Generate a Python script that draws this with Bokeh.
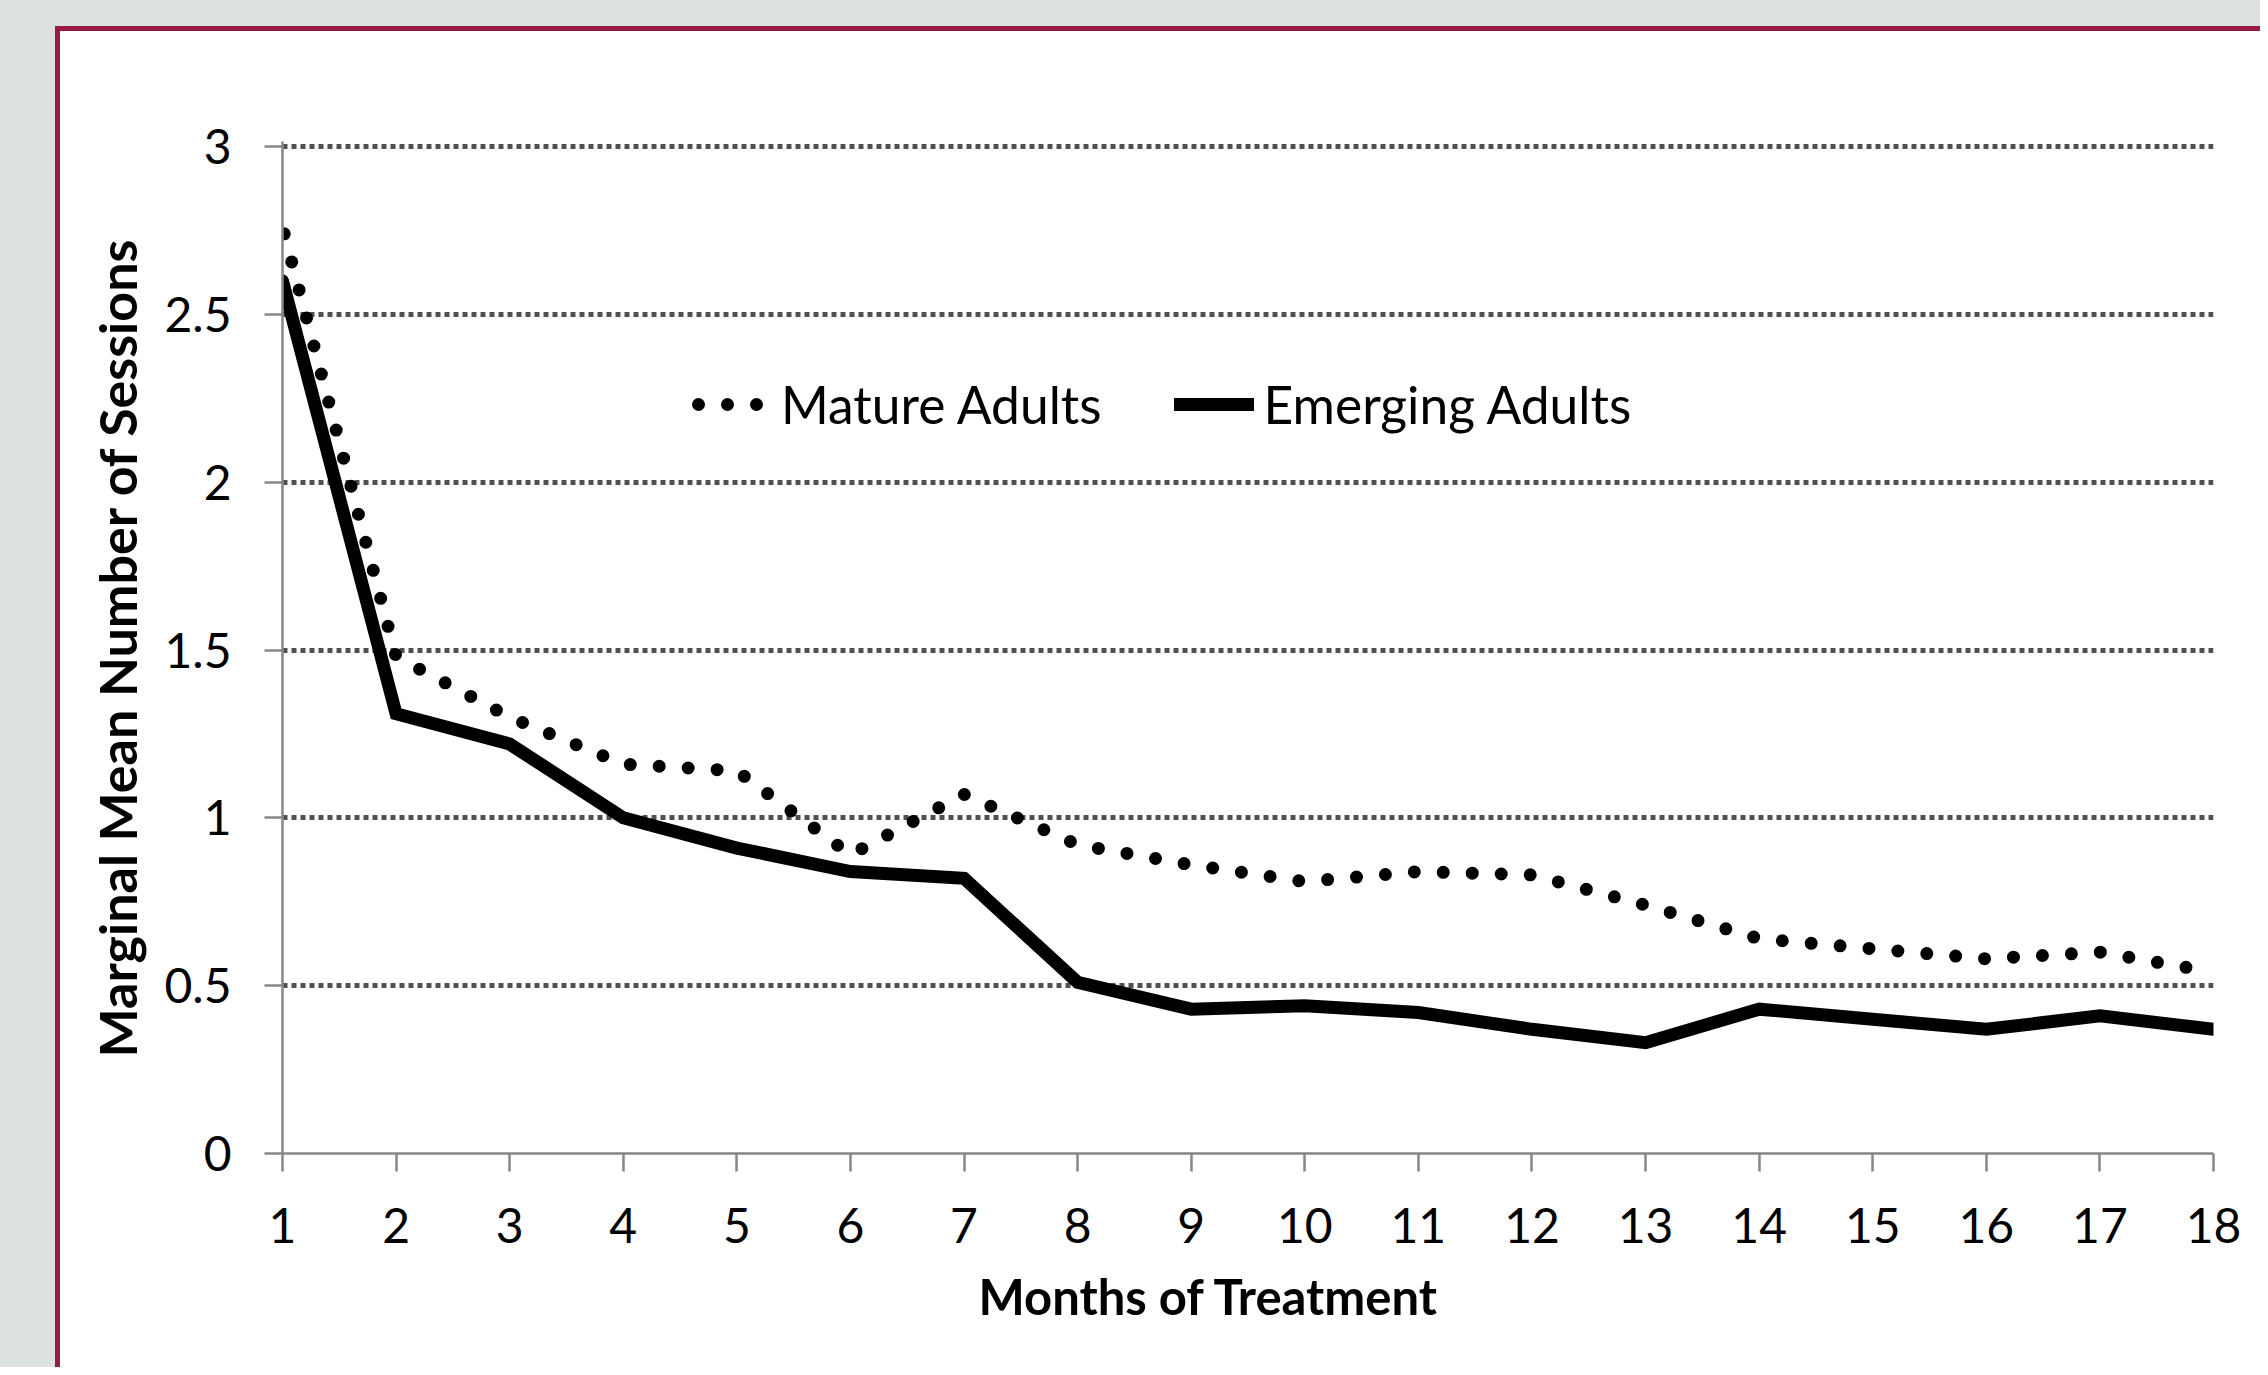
from bokeh.plotting import figure
from bokeh.models import (Range1d, FixedTicker, NumeralTickFormatter, Legend,
                          LegendItem, Spacer, Title)
from bokeh.layouts import row, column
from bokeh.embed import file_html
from bokeh.resources import INLINE

# ---------------- data ----------------
months = list(range(1, 19))
mature_adults = [2.76, 1.48, 1.30, 1.16, 1.14, 0.89, 1.07, 0.92, 0.86,
                 0.81, 0.84, 0.83, 0.74, 0.64, 0.61, 0.58, 0.60, 0.54]
emerging_adults = [2.60, 1.31, 1.22, 1.00, 0.91, 0.84, 0.82, 0.51, 0.43,
                   0.44, 0.42, 0.37, 0.33, 0.43, 0.40, 0.37, 0.41, 0.37]
series_names = ["Mature Adults", "Emerging Adults"]
y_ticks = [0, 0.5, 1, 1.5, 2, 2.5, 3]
x_title = "Months of Treatment"
y_title = "Marginal Mean Number of Sessions"

# ---------------- style ----------------
BG = "#dce3df"
CRIMSON = "#9a1a47"
FONT = "Lato"
AXIS_GRAY = "#878787"
GRID_GRAY = "#505050"

W, H = 2200, 1336

p = figure(width=W, height=H, x_range=Range1d(1, 18), y_range=Range1d(0, 3.015),
           output_backend="svg", toolbar_location=None,
           min_border_left=222, min_border_right=47,
           min_border_top=110, min_border_bottom=214,
           background_fill_color="white", border_fill_color="white",
           outline_line_color=None)

r_m = p.line(months, mature_adults, line_color="black", line_width=13,
             line_dash="0 29", line_dash_offset=22,
             line_cap="round", line_join="round")
r_e = p.line(months, emerging_adults, line_color="black", line_width=13,
             line_cap="round", line_join="miter")

# axes
for ax in (p.xaxis[0], p.yaxis[0]):
    ax.axis_line_color = AXIS_GRAY
    ax.axis_line_width = 2.5
    ax.major_tick_line_color = AXIS_GRAY
    ax.major_tick_line_width = 2.5
    ax.major_tick_out = 18
    ax.major_tick_in = 0
    ax.minor_tick_line_color = None
    ax.major_label_text_font = FONT
    ax.major_label_text_font_size = "48px"
    ax.major_label_text_color = "black"
    ax.axis_label_text_font = FONT
    ax.axis_label_text_font_style = "bold"
    ax.axis_label_text_color = "black"

p.xaxis.ticker = FixedTicker(ticks=months)
p.yaxis.ticker = FixedTicker(ticks=y_ticks)
p.yaxis.formatter = NumeralTickFormatter(format="0.[0]")
p.yaxis.axis_label = y_title
p.yaxis.axis_label_text_font_size = "52px"
p.xaxis.major_label_standoff = 36
p.yaxis.major_label_standoff = 33
p.yaxis.axis_label_standoff = 13

# x-axis title, placed slightly left of the plot centre as in the original
x_title_model = Title(text=x_title, align="left", offset=696,
                      text_font=FONT, text_font_style="bold",
                      text_font_size="49px", text_color="black", standoff=38)
p.add_layout(x_title_model, "below")

p.xgrid.visible = False
p.ygrid[0].ticker = FixedTicker(ticks=y_ticks[1:])
p.ygrid.grid_line_color = GRID_GRAY
p.ygrid.grid_line_width = 5
p.ygrid.grid_line_dash = "5 4"

legend = Legend(items=[LegendItem(label=series_names[0], renderers=[r_m]),
                       LegendItem(label=series_names[1], renderers=[r_e])],
                orientation="horizontal", location=(409, 718),
                padding=0, margin=0, spacing=72,
                glyph_width=80, glyph_height=52, label_height=52,
                label_standoff=10,
                label_text_font=FONT, label_text_font_size="51.5px",
                label_text_color="black",
                border_line_color=None, background_fill_alpha=0)
p.add_layout(legend)

# page frame: grey surround, crimson top/left border of the white panel
left_grey = Spacer(width=55, height=H + 31, styles={"background-color": BG})
top_grey = Spacer(width=W + 5, height=26, styles={"background-color": BG})
top_red = Spacer(width=W + 5, height=5, styles={"background-color": CRIMSON})
left_red = Spacer(width=5, height=H, styles={"background-color": CRIMSON})

page = row(left_grey, column(top_grey, top_red, row(left_red, p)))

open("out.html", "w").write(file_html(page, INLINE))
